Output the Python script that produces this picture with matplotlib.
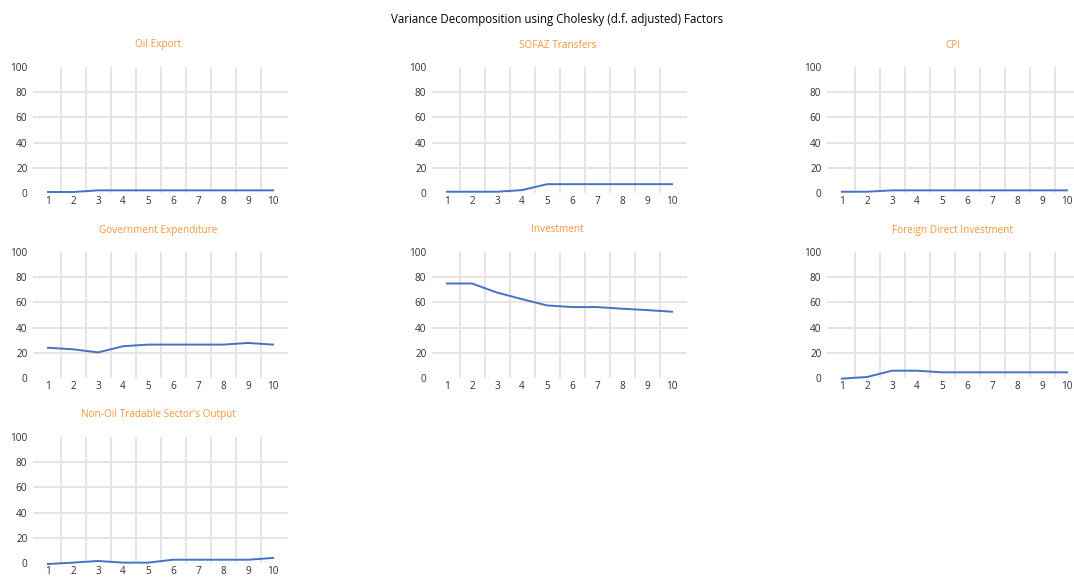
import matplotlib
matplotlib.use("Agg")
import matplotlib.pyplot as plt

plt.rcParams["font.family"] = ["Open Sans", "DejaVu Sans"]

periods = list(range(1, 11))
y_ticks = [0, 20, 40, 60, 80, 100]

suptitle = "Variance Decomposition using Cholesky (d.f. adjusted) Factors"

titles = [
    "Oil Export",
    "SOFAZ Transfers",
    "CPI",
    "Government Expenditure",
    "Investment",
    "Foreign Direct Investment",
    "Non-Oil Tradable Sector's Output",
]

oil_export = [0.8, 0.8, 2.1, 2.1, 2.1, 2.1, 2.1, 2.1, 2.1, 2.1]
sofaz_transfers = [1.0, 1.0, 1.0, 2.3, 7.0, 7.0, 7.0, 7.0, 7.0, 7.0]
cpi = [1.0, 1.0, 2.1, 2.1, 2.1, 2.1, 2.1, 2.1, 2.1, 2.1]
gov_expenditure = [24.0, 22.8, 20.3, 25.2, 26.5, 26.5, 26.5, 26.5, 27.8, 26.5]
investment = [75.0, 75.0, 67.8, 62.6, 57.6, 56.3, 56.3, 55.0, 53.9, 52.6]
fdi = [-0.5, 0.8, 5.8, 5.8, 4.5, 4.5, 4.5, 4.5, 4.5, 4.5]
non_oil_output = [-0.8, 0.3, 1.6, 0.3, 0.3, 2.6, 2.6, 2.6, 2.6, 4.0]

series = [oil_export, sofaz_transfers, cpi, gov_expenditure,
          investment, fdi, non_oil_output]

W, H = 1074, 578
fig = plt.figure(figsize=(W / 100, H / 100), dpi=100)
fig.patch.set_facecolor("white")

# panel boxes in pixels: (left, top), all panels share one size
col_left = [33, 432, 827]
row_top = [67, 252, 437]
pw, ph = 255, 126
boxes = [
    (col_left[0], row_top[0]), (col_left[1], row_top[0]), (col_left[2], row_top[0]),
    (col_left[0], row_top[1]), (col_left[1], row_top[1]), (col_left[2], row_top[1]),
    (col_left[0], row_top[2]),
]

line_color = "#4472C4"
grid_color = "#E3E3E3"
title_color = "#F7963C"
text_color = "#303030"

fig.text(557 / W, 1 - 19 / H, suptitle, ha="center", va="center",
         fontsize=8.3, color="#000000")

for (left, top), title, vals in zip(boxes, titles, series):
    ax = fig.add_axes([left / W, 1 - (top + ph) / H, pw / W, ph / H])
    ax.set_xlim(0.4, 10.6)
    ax.set_ylim(0, 100)
    for s in ax.spines.values():
        s.set_visible(False)
    for y in y_ticks[1:-1]:
        ax.axhline(y, color=grid_color, lw=1.3, zorder=0)
    for x in periods[:-1]:
        ax.axvline(x + 0.5, color=grid_color, lw=1.3, zorder=0)
    ax.plot(periods, vals, color=line_color, lw=1.4, clip_on=False, zorder=3)
    ax.set_xticks(periods)
    ax.set_xticklabels([str(p) for p in periods])
    ax.set_yticks(y_ticks)
    ax.tick_params(axis="both", length=0, labelsize=7.2, colors=text_color)
    ax.tick_params(axis="x", pad=2.5)
    ax.tick_params(axis="y", pad=4)
    ax.set_facecolor("none")
    cx = left + pw / 2 - 2
    fig.text(cx / W, 1 - (top - 22) / H, title, ha="center", va="center",
             fontsize=7.2, color=title_color)

fig.savefig("out.png", dpi=100, facecolor="white")
